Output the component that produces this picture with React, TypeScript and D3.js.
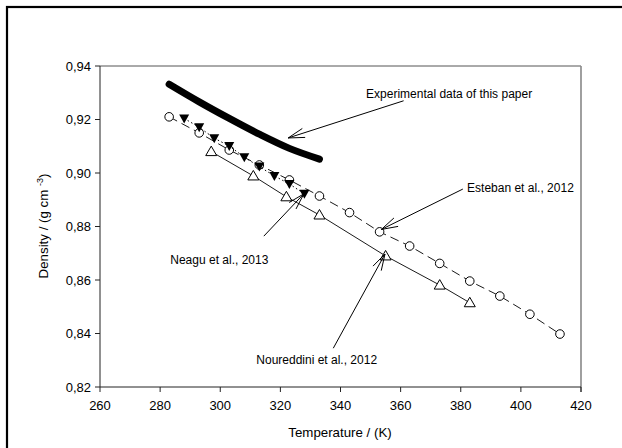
import * as d3 from "d3";

// temperature (K) / density (g cm-3)
const estebanT = [283, 293, 303, 313, 323, 333, 343, 353, 363, 373, 383, 393, 403, 413];
const estebanD = [0.921, 0.915, 0.9086, 0.903, 0.8974, 0.8914, 0.8852, 0.878, 0.8727, 0.8662, 0.8596, 0.854, 0.8472, 0.8398];

const noureddiniT = [297, 311, 322, 333, 355, 373, 383];
const noureddiniD = [0.908, 0.8989, 0.8911, 0.8843, 0.869, 0.8581, 0.8515];

const neaguT = [288, 293, 298, 303, 308, 313, 318, 323, 328];
const neaguD = [0.9204, 0.9171, 0.913, 0.9101, 0.9059, 0.9024, 0.8989, 0.8959, 0.8922];

const expT = [283, 293, 303, 313, 323, 333];
const expD = [0.9332, 0.9266, 0.9204, 0.9145, 0.9092, 0.9052];

const xTicks = [260, 280, 300, 320, 340, 360, 380, 400, 420];
const yTicks = [0.82, 0.84, 0.86, 0.88, 0.9, 0.92, 0.94];

// annotation labels, anchored in data space
const notes = [
  { label: "Experimental data of this paper", tx: 348.5, ty: 0.9281, anchor: "start", from: [361, 0.927], to: [322.6, 0.9131] },
  { label: "Esteban et al., 2012", tx: 382.1, ty: 0.8929, anchor: "start", from: [380.7, 0.894], to: [353.6, 0.8789] },
  { label: "Neagu et al., 2013", tx: 316, ty: 0.866, anchor: "end", from: [314.5, 0.8764], to: [327.8, 0.8922] },
  { label: "Noureddini et al., 2012", tx: 312, ty: 0.8285, anchor: "start", from: [337.6, 0.8345], to: [354.8, 0.8697] },
];

const font = "'Liberation Sans', Arial, sans-serif";

export default function App() {
  const x = d3.scaleLinear().domain([260, 420]).range([100, 581]);
  const y = d3.scaleLinear().domain([0.82, 0.94]).range([387, 66]);
  const fmt = (v: number) => d3.format(".2f")(v).replace(".", ",");

  const pts = (T: number[], D: number[]) => T.map((t, i) => [x(t), y(D[i])] as [number, number]);
  const line = d3.line();
  const smooth = d3.line().curve(d3.curveMonotoneX);

  const este = pts(estebanT, estebanD);
  const nour = pts(noureddiniT, noureddiniD);
  const neag = pts(neaguT, neaguD);
  const exp = pts(expT, expD);

  const arrow = (from: number[], to: number[]) => {
    const x1 = x(from[0]), y1 = y(from[1]), x2 = x(to[0]), y2 = y(to[1]);
    const a = Math.atan2(y1 - y2, x1 - x2);
    const len = 17, spread = 0.28;
    const b1 = [x2 + len * Math.cos(a + spread), y2 + len * Math.sin(a + spread)];
    const b2 = [x2 + len * Math.cos(a - spread), y2 + len * Math.sin(a - spread)];
    return `M${x1},${y1}L${x2},${y2}M${b1[0]},${b1[1]}L${x2},${y2}L${b2[0]},${b2[1]}`;
  };

  return (
    <svg width={622} height={448} style={{ position: "absolute", left: 0, top: 0, background: "#fff" }} fontFamily={font}>
      <rect x={7} y={7} width={700} height={500} fill="none" stroke="#000" strokeWidth={2.2} />

      {/* frame */}
      <line x1={x(260)} x2={x(420)} y1={y(0.94)} y2={y(0.94)} stroke="#555" />
      <line x1={x(420)} x2={x(420)} y1={y(0.94)} y2={y(0.82) + 5} stroke="#888" strokeWidth={1.6} />
      <line x1={x(260)} x2={x(420)} y1={y(0.82)} y2={y(0.82)} stroke="#222" />
      <line x1={x(260)} x2={x(260)} y1={y(0.94)} y2={y(0.82)} stroke="#222" />

      {xTicks.map((t) => (
        <g key={t}>
          <line x1={x(t)} x2={x(t)} y1={y(0.82)} y2={y(0.82) + 5} stroke="#222" />
          <text x={x(t)} y={410} fontSize={13} textAnchor="middle">{t}</text>
        </g>
      ))}
      {yTicks.map((v) => (
        <g key={v}>
          <line x1={x(260) - 5} x2={x(260)} y1={y(v)} y2={y(v)} stroke="#222" />
          <text x={91} y={y(v)} dy="0.35em" fontSize={13} textAnchor="end">{fmt(v)}</text>
        </g>
      ))}

      <text x={340} y={437} fontSize={13.3} textAnchor="middle">Temperature / (K)</text>
      <text transform="translate(48,226) rotate(-90)" fontSize={13.3} textAnchor="middle">
        Density / (g cm <tspan dy={-5} fontSize={9}>-3</tspan><tspan dy={5}>)</tspan>
      </text>

      {/* Esteban */}
      <path d={line(este) || ""} fill="none" stroke="#000" strokeWidth={0.9} strokeDasharray="9,5" />
      {este.map((p, i) => (
        <circle key={i} cx={p[0]} cy={p[1]} r={4.3} fill="#fff" stroke="#000" strokeWidth={1} />
      ))}

      {/* Noureddini */}
      <path d={line(nour) || ""} fill="none" stroke="#000" strokeWidth={0.9} />
      {nour.map((p, i) => (
        <path key={i} transform={`translate(${p[0]},${p[1]})`} d="M0,-5.5L5.5,4L-5.5,4Z" fill="#fff" stroke="#000" strokeWidth={1} />
      ))}

      {/* Neagu */}
      <path d={line(neag) || ""} fill="none" stroke="#000" strokeWidth={1} strokeDasharray="1.5,2.5" />
      {neag.map((p, i) => (
        <path key={i} transform={`translate(${p[0]},${p[1]})`} d="M-5,-4L5,-4L0,5Z" fill="#000" />
      ))}

      {/* this paper */}
      <path d={smooth(exp) || ""} fill="none" stroke="#000" strokeWidth={7} strokeLinecap="round" />

      {notes.map((n) => (
        <g key={n.label}>
          <path d={arrow(n.from, n.to)} fill="none" stroke="#000" strokeWidth={1} />
          <text x={x(n.tx)} y={y(n.ty)} fontSize={12} textAnchor={n.anchor}>{n.label}</text>
        </g>
      ))}
    </svg>
  );
}
